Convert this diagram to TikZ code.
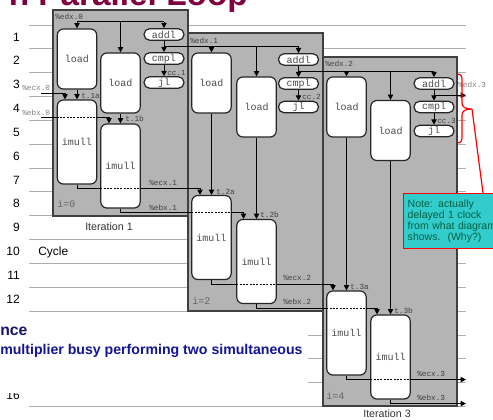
\documentclass[tikz,border=0pt]{standalone}
\usepackage{fontspec}
\setmainfont{Liberation Sans}
\newfontfamily\monofont{Liberation Mono}
\usetikzlibrary{arrows.meta,calc}
\pgfdeclarelayer{bg}
\pgfdeclarelayer{wires}
\pgfsetlayers{bg,wires,main}
\definecolor{boxgray}{RGB}{180,180,180}
\definecolor{titlered}{RGB}{128,0,64}
\definecolor{slideblue}{RGB}{20,20,150}
\definecolor{slidenavy}{RGB}{20,20,110}
\definecolor{notecyan}{RGB}{51,204,204}
\definecolor{notegreen}{RGB}{0,96,64}
\begin{document}
\begin{tikzpicture}[x=0.75pt,y=-0.75pt,
  iterbox/.style={draw=black!75, fill=boxgray, line width=0.9pt},
  gridline/.style={draw=black!32, line width=0.7pt},
  wire/.style={draw=black, line width=0.75pt},
  arr/.style={wire, -{Triangle[length=4pt,width=4pt]}},
  dashover/.style={draw=black, line width=0.45pt, dash pattern=on 1.5pt off 1pt},
  opbox/.style={draw=black!85, fill=white, line width=0.9pt, inner sep=0pt,
     font=\monofont\fontsize{7.5}{8}\selectfont, text=black!70},
  ldop/.style={opbox, rounded corners=4.5pt, minimum width=29.5pt, minimum height=45pt},
  mulop/.style={opbox, rounded corners=4.5pt, minimum width=29.5pt, minimum height=63pt},
  pill/.style={opbox, rounded corners=4.2pt, minimum width=30pt, minimum height=8.6pt},
  reglab/.style={font=\monofont\fontsize{5.8}{6}\selectfont, text=black!75, inner sep=0pt, anchor=west},
  outlab/.style={reglab, text=black!50},
  itlab/.style={font=\monofont\fontsize{7.5}{8}\selectfont, text=black!60, inner sep=0pt, anchor=west},
  rownum/.style={font=\fontsize{9}{10}\selectfont, inner sep=0pt, anchor=east},
  iterlab/.style={font=\fontsize{8}{9}\selectfont, text=black!80, inner sep=0pt},
  notebox/.style={draw=red, line width=1.1pt, fill=notecyan, text=notegreen,
     font=\fontsize{7.9}{8.25}\selectfont, align=left, text width=72pt,
     inner xsep=3pt, minimum height=41.25pt, anchor=north west},
  redline/.style={draw=red, line width=0.9pt}
]
\useasboundingbox (0,0) rectangle (493,419);
\begin{pgfonlayer}{bg}
  \fill[white] (0,0) rectangle (493,419);
  \foreach \i in {0,...,16} \draw[gridline] (29,{25+23.85*\i}) -- (466,{25+23.85*\i});
  \foreach \n in {1,...,12} \node[rownum] (r\n) at (20,{36.9+23.85*(\n-1)}) {\n};
  \node[rownum] (r16) at (20,395) {16};
  \fill[white] (0,316) rectangle (308,393);
  \node[rownum, anchor=west] (cyc) at (38,252) {Cycle};
  \node[iterlab] (it1) at (109,227) {Iteration 1};
  \node[iterlab] (it3) at (387,414) {Iteration 3};
  \draw[iterbox] (53,10) rectangle (188,216);
  \draw[iterbox] (188,33) rectangle (323,311);
  \draw[iterbox] (323,57) rectangle (457,406);
\end{pgfonlayer}

% title and slide text (cut off by the frame)
\node[font=\bfseries\fontsize{25}{30}\selectfont, text=titlered, inner sep=0pt, anchor=base east] (title) at (248,5) {h Parallel Loop};
\node[font=\bfseries\fontsize{11.8}{14}\selectfont, text=slidenavy, inner sep=0pt, anchor=base west] (nce) at (0,335) {nce};
\node[font=\bfseries\fontsize{10.6}{13}\selectfont, text=slideblue, inner sep=0pt, anchor=base west] (mult) at (0,354) {multiplier busy performing two simultaneous};

% iteration 1
\node[ldop] (load1a) at (77,59) {load};
\node[ldop] (load1b) at (120.5,83) {load};
\node[pill] (addl1) at (164,34.5) {addl};
\node[pill] (cmpl1) at (164,58.5) {cmpl};
\node[pill] (jl1) at (164,82.5) {jl};
\node[mulop] (imull1a) at (77,142) {imull};
\node[mulop] (imull1b) at (120.5,166) {imull};
% iteration 2
\node[ldop] (load2a) at (211.5,83) {load};
\node[ldop] (load2b) at (256.5,107) {load};
\node[pill] (addl2) at (298.5,59.5) {addl};
\node[pill] (cmpl2) at (298.5,83.5) {cmpl};
\node[pill] (jl2) at (298.5,107) {jl};
\node[mulop] (imull2a) at (211.5,237.5) {imull};
\node[mulop] (imull2b) at (256.5,261.5) {imull};
% iteration 3
\node[ldop] (load3a) at (346.5,107) {load};
\node[ldop] (load3b) at (390.5,130.5) {load};
\node[pill] (addl3) at (434,83.5) {addl};
\node[pill] (cmpl3) at (434,107) {cmpl};
\node[pill] (jl3) at (434,131) {jl};
\node[mulop] (imull3a) at (346.5,333) {imull};
\node[mulop] (imull3b) at (390.5,357) {imull};

\coordinate (outx) at (466,0);
\coordinate (edx0) at (77,21.5);
\coordinate (ecx0) at (41,93);
\coordinate (ebx0) at (41,117);
\coordinate (edx1) at ($(addl1.south)!0.5!(cmpl1.north)$);
\coordinate (edx2) at ($(addl2.south)!0.5!(cmpl2.north)$);
\coordinate (edx3) at ($(addl3.south)!0.5!(cmpl3.north)$);

\begin{pgfonlayer}{wires}
  % register %edx chain
  \draw[wire] (edx0) -- (edx0 -| addl1.north);
  \draw[arr] (edx0) -- (load1a.north);
  \draw[arr] (edx0 -| load1b.north) -- (load1b.north);
  \draw[arr] (edx0 -| addl1.north) -- (addl1.north);
  \draw[arr] (addl1.south) -- (cmpl1.north);
  \draw[arr] (cmpl1.south) -- (jl1.north);
  \draw[wire] (edx1) -- (edx1 -| addl2.north);
  \draw[arr] (edx1 -| load2a.north) -- (load2a.north);
  \draw[arr] (edx1 -| load2b.north) -- (load2b.north);
  \draw[arr] (edx1 -| addl2.north) -- (addl2.north);
  \draw[arr] (addl2.south) -- (cmpl2.north);
  \draw[arr] (cmpl2.south) -- (jl2.north);
  \draw[wire] (edx2) -- (edx2 -| addl3.north);
  \draw[arr] (edx2 -| load3a.north) -- (load3a.north);
  \draw[arr] (edx2 -| load3b.north) -- (load3b.north);
  \draw[arr] (edx2 -| addl3.north) -- (addl3.north);
  \draw[arr] (addl3.south) -- (cmpl3.north);
  \draw[arr] (cmpl3.south) -- (jl3.north);
  \draw[arr] (edx3) -- (edx3 -| outx);
  % loads to multiplies
  \draw[arr] (load1a.south) -- (load1a.south |- imull1a.north);
  \draw[arr] (load1b.south) -- (load1b.south |- imull1b.north);
  \draw[arr] (load2a.south) -- (load2a.south |- imull2a.north);
  \draw[arr] (load2b.south) -- (load2b.south |- imull2b.north);
  \draw[arr] (load3a.south) -- (load3a.south |- imull3a.north);
  \draw[arr] (load3b.south) -- (load3b.south |- imull3b.north);
  % %ecx and %ebx chains
  \draw[arr] (ecx0) -| ($(imull1a.north)+(-12,0)$);
  \draw[arr] (ebx0) -| ($(imull1b.north)+(-11.5,0)$);
  \draw[arr] (imull1a.south) -- ++(0,3.5) coordinate (ecx1) -| ($(imull2a.north)+(-11.5,0)$);
  \draw[arr] (imull1b.south) -- ++(0,4) coordinate (ebx1) -| ($(imull2b.north)+(-13,0)$);
  \draw[arr] (imull2a.south) -- ++(0,4) coordinate (ecx2) -| ($(imull3a.north)+(-13.5,0)$);
  \draw[arr] (imull2b.south) -- ++(0,4) coordinate (ebx2) -| ($(imull3b.north)+(-13.5,0)$);
  \draw[arr] (imull3a.south) -- ++(0,4) coordinate (ecx3) -- (ecx3 -| outx);
  \draw[arr] (imull3b.south) -- ++(0,4) coordinate (ebx3) -- (ebx3 -| outx);
\end{pgfonlayer}

% dashed parts of the wires crossing the multiplier boxes
\draw[dashover] (imull1a.west |- ebx0) -- (imull1a.east |- ebx0);
\draw[dashover] (imull1b.west |- ecx1) -- (imull1b.east |- ecx1);
\draw[dashover] (imull2a.west |- ebx1) -- (imull2a.east |- ebx1);
\draw[dashover] (imull2b.west |- ecx2) -- (imull2b.east |- ecx2);
\draw[dashover] (imull3a.west |- ebx2) -- (imull3a.east |- ebx2);
\draw[dashover] (imull3b.west |- ecx3) -- (imull3b.east |- ecx3);

% register labels
\node[reglab] (l-edx0) at (55,16.5) {\%edx.0};
\node[reglab] (l-edx1) at (190,40.5) {\%edx.1};
\node[reglab] (l-edx2) at (325,64) {\%edx.2};
\node[outlab] (l-edx3) at (458,85) {\%edx.3};
\node[outlab] (l-ecx0) at (22,88) {\%ecx.0};
\node[outlab] (l-ebx0) at (22,112.5) {\%ebx.0};
\node[reglab] (l-ecx1) at (149,183) {\%ecx.1};
\node[reglab] (l-ebx1) at (149,207.5) {\%ebx.1};
\node[reglab] (l-ecx2) at (283,278) {\%ecx.2};
\node[reglab] (l-ebx2) at (283,302) {\%ebx.2};
\node[reglab] (l-ecx3) at (417,374) {\%ecx.3};
\node[reglab] (l-ebx3) at (417,397.5) {\%ebx.3};
\node[reglab] (l-cc1) at (167,72.5) {cc.1};
\node[reglab] (l-cc2) at (302,96.5) {cc.2};
\node[reglab] (l-cc3) at (437,121) {cc.3};
\node[reglab] (l-t1a) at (81,96) {t.1a};
\node[reglab] (l-t1b) at (125,119) {t.1b};
\node[reglab] (l-t2a) at (216,192) {t.2a};
\node[reglab] (l-t2b) at (260,215) {t.2b};
\node[reglab] (l-t3a) at (350,287) {t.3a};
\node[reglab] (l-t3b) at (394,311) {t.3b};
\node[itlab] (i0) at (57,204) {i=0};
\node[itlab] (i2) at (192,301) {i=2};
\node[itlab] (i4) at (326,396) {i=4};

% note with brace
\node[notebox] (note) at (403,193) {Note: actually\\delayed 1 clock\\from what diagram\\shows.\ \ (Why?)};
\coordinate (bracetip) at (472,109);
\draw[redline] (457,74) .. controls (461,74) and (462,76) .. (462,80) -- (462,103)
  .. controls (462,107) and (465,109) .. (bracetip)
  .. controls (465,109) and (462,111) .. (462,115) -- (462,137)
  .. controls (462,141) and (461,143) .. (457,143);
\draw[redline] (bracetip) -- ($(note.north west)+(80,0)$);
\end{tikzpicture}
\end{document}
